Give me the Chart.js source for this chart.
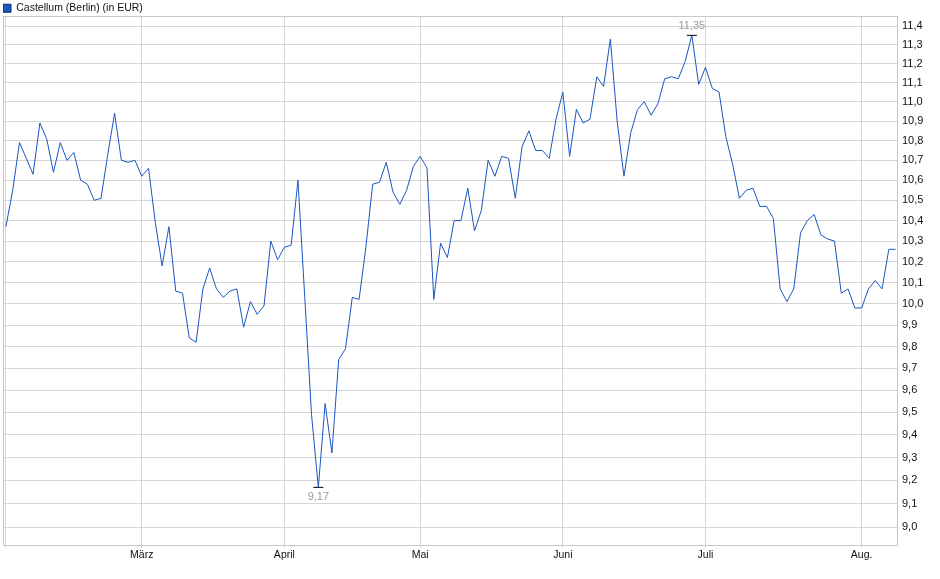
<!DOCTYPE html>
<html>
<head>
<meta charset="utf-8">
<script src="https://cdn.jsdelivr.net/npm/chart.js@4.4.1/dist/chart.umd.min.js"></script>
<style>
html, body { margin: 0; padding: 0; background: #fff; }
#wrap { width: 940px; height: 579px; position: relative; }
</style>
</head>
<body>
<div id="wrap"><canvas id="kurs"></canvas></div>
<script>
// Schlusskurse je Handelstag (Feb. bis Aug.)
var serienName = 'Castellum (Berlin) (in EUR)';
var kurse = [
    10.37, 10.55, 10.79, 10.71, 10.63, 10.89, 10.81, 10.64, 10.79, 10.70,
    10.74, 10.60, 10.58, 10.50, 10.51, 10.73, 10.94, 10.70, 10.69, 10.70,
    10.62, 10.66, 10.39, 10.18, 10.37, 10.06, 10.05, 9.84, 9.82, 10.07,
    10.17, 10.07, 10.03, 10.06, 10.07, 9.89, 10.01, 9.95, 9.99, 10.30,
    10.21, 10.27, 10.28, 10.60, 10.03, 9.49, 9.17, 9.54, 9.32, 9.74,
    9.79, 10.03, 10.02, 10.27, 10.58, 10.59, 10.69, 10.54, 10.48, 10.55,
    10.67, 10.72, 10.66, 10.02, 10.29, 10.22, 10.40, 10.40, 10.56, 10.35,
    10.45, 10.70, 10.62, 10.72, 10.71, 10.51, 10.77, 10.85, 10.75, 10.75,
    10.71, 10.91, 11.05, 10.72, 10.96, 10.89, 10.91, 11.13, 11.08, 11.33,
    10.90, 10.62, 10.84, 10.96, 11.00, 10.93, 10.99, 11.12, 11.13, 11.12,
    11.21, 11.35, 11.09, 11.18, 11.07, 11.05, 10.82, 10.68, 10.51, 10.55,
    10.56, 10.47, 10.47, 10.41, 10.07, 10.01, 10.07, 10.34, 10.40, 10.43,
    10.33, 10.31, 10.30, 10.05, 10.07, 9.98, 9.98, 10.07, 10.11, 10.07,
    10.26, 10.26
];
// erster Handelstag jedes Monats (Index in kurse)
var monatsStart = [0, 20, 41, 61, 82, 103, 126];
var monatsNamen = ['', 'März', 'April', 'Mai', 'Juni', 'Juli', 'Aug.'];
var yTicks = [9.0, 9.1, 9.2, 9.3, 9.4, 9.5, 9.6, 9.7, 9.8, 9.9, 10.0, 10.1, 10.2,
    10.3, 10.4, 10.5, 10.6, 10.7, 10.8, 10.9, 11.0, 11.1, 11.2, 11.3, 11.4];

var schrift = '"Liberation Sans", Arial, sans-serif';
var linienFarbe = '#1a55c2';

function komma(v, stellen) {
    return v.toFixed(stellen).replace('.', ',');
}

var idxMax = kurse.indexOf(Math.max.apply(null, kurse));
var idxMin = kurse.indexOf(Math.min.apply(null, kurse));

// Rahmen um die Zeichenfläche
var rahmenPlugin = {
    id: 'rahmen',
    beforeDatasetsDraw: function(chart) {
        var a = chart.chartArea, c = chart.ctx;
        c.save();
        c.strokeStyle = '#c8c8c8';
        c.lineWidth = 1;
        c.strokeRect(a.left + 0.5, a.top + 0.5, a.right - a.left - 1, a.bottom - a.top);
        c.restore();
    }
};

// Hoch- und Tiefkurs beschriften
var extremPlugin = {
    id: 'extremwerte',
    afterDatasetsDraw: function(chart) {
        var meta = chart.getDatasetMeta(0);
        var c = chart.ctx;
        var pMax = meta.data[idxMax], pMin = meta.data[idxMin];
        c.save();
        c.font = '11px ' + schrift;
        c.fillStyle = '#9a9a9a';
        c.textAlign = 'center';
        c.textBaseline = 'middle';
        c.fillText(komma(kurse[idxMax], 2), pMax.x, pMax.y - 9);
        c.fillText(komma(kurse[idxMin], 2), pMin.x, pMin.y + 10);
        c.restore();
    }
};

var ctx = document.getElementById('kurs').getContext('2d');
var grafik = new Chart(ctx, {
    type: 'line',
    data: {
        datasets: [{
            label: serienName,
            data: kurse.map(function(v, i) { return {x: i, y: v}; }),
            borderColor: linienFarbe,
            backgroundColor: linienFarbe,
            borderWidth: 1,
            tension: 0,
            pointStyle: 'line',
            pointRadius: function(c) {
                return (c.dataIndex === idxMax || c.dataIndex === idxMin) ? 5 : 0;
            },
            pointBorderColor: '#000',
            pointBorderWidth: 1,
            pointHoverRadius: 0
        }]
    },
    options: {
        responsive: true,
        maintainAspectRatio: false,
        animation: false,
        layout: { padding: { left: 3, top: 3, right: 0, bottom: 0 } },
        plugins: {
            tooltip: { enabled: false },
            legend: {
                display: true,
                position: 'top',
                align: 'start',
                maxHeight: 13,
                labels: {
                    boxWidth: 8,
                    boxHeight: 8,
                    padding: 0,
                    color: '#111',
                    font: { family: schrift, size: 10.5 },
                    generateLabels: function(chart) {
                        return Chart.defaults.plugins.legend.labels.generateLabels(chart).map(function(l) {
                            l.fillStyle = '#1c57c4';
                            l.strokeStyle = '#0b2a66';
                            l.lineWidth = 1;
                            return l;
                        });
                    }
                }
            }
        },
        scales: {
            x: {
                type: 'linear',
                min: -0.43,
                max: 131.35,
                bounds: 'data',
                afterBuildTicks: function(s) {
                    s.ticks = monatsStart.map(function(v) { return {value: v}; });
                },
                afterFit: function(s) { s.height = 34; },
                grid: { color: '#d6d6d6', lineWidth: 1, tickLength: 3, drawTicks: true },
                border: { display: false },
                ticks: {
                    autoSkip: false,
                    maxRotation: 0,
                    padding: 1,
                    color: '#111',
                    font: { family: schrift, size: 10.5 },
                    callback: function(v, i) { return monatsNamen[i]; }
                }
            },
            y: {
                type: 'logarithmic',
                position: 'right',
                min: 8.924,
                max: 11.454,
                bounds: 'data',
                afterBuildTicks: function(s) {
                    s.ticks = yTicks.map(function(v) { return {value: v}; });
                },
                afterFit: function(s) { s.width = 42; },
                grid: { color: '#d6d6d6', lineWidth: 1, drawTicks: false },
                border: { display: false },
                ticks: {
                    autoSkip: false,
                    padding: 4,
                    color: '#111',
                    font: { family: schrift, size: 11 },
                    callback: function(v) { return komma(v, 1); }
                }
            }
        }
    },
    plugins: [rahmenPlugin, extremPlugin]
});
</script>
</body>
</html>
